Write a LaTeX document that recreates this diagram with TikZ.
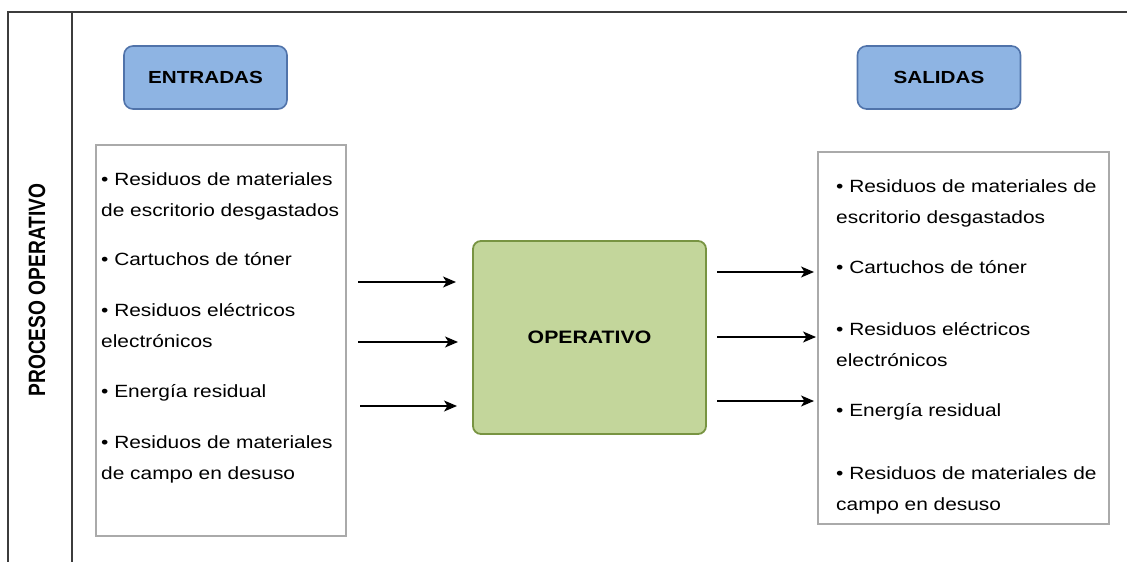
\documentclass[tikz,border=0pt]{standalone}
\usepackage{fontspec}
\usepackage{graphicx}
\setmainfont{Liberation Sans}[FakeStretch=1.18]
\newfontfamily\plainsans{Liberation Sans}
\usetikzlibrary{arrows.meta}

\definecolor{headfill}{RGB}{142,180,227}
\definecolor{headdraw}{RGB}{80,115,170}
\definecolor{opfill}{RGB}{195,214,155}
\definecolor{opdraw}{RGB}{120,148,66}
\definecolor{framecol}{RGB}{60,60,60}
\definecolor{listcol}{RGB}{170,170,170}

\tikzset{
  frameline/.style={draw=framecol, line width=1.4pt},
  headbox/.style={draw=headdraw, fill=headfill, line width=1.6pt, rounded corners=9pt,
    minimum width=163pt, minimum height=63pt, inner sep=0pt,
    font=\bfseries\fontsize{17.5}{20}\selectfont},
  listbox/.style={draw=listcol, line width=1.3pt, inner sep=0pt},
  opbox/.style={draw=opdraw, fill=opfill, line width=1.8pt, rounded corners=8pt,
    minimum width=233pt, minimum height=193pt, inner sep=0pt,
    font=\bfseries\fontsize{18}{20}\selectfont},
  item/.style={anchor=base west, align=left, inner sep=0pt,
    font=\fontsize{17.7}{31}\selectfont},
  flow/.style={draw=black, line width=1.2pt, -{Stealth[length=13pt,width=11pt,inset=3.5pt]}}
}

\begin{document}
\begin{tikzpicture}[x=1pt, y=-1pt]
\useasboundingbox (0,0) rectangle (1127,562);

% outer frame of the process lane
\coordinate (ftl) at (8,12);
\coordinate (ftr) at (1127,12);
\coordinate (fbl) at (8,562);
\coordinate (stl) at (72,12);
\coordinate (sbl) at (72,562);
\draw[frameline] (fbl) -- (ftl) -- (ftr);
\draw[frameline] (stl) -- (sbl);

% lane title
\node[rotate=90, inner sep=0pt, font=\plainsans\bfseries\fontsize{19.2}{20}\selectfont]
  (lane) at (37,290) {\scalebox{1}[1.23]{PROCESO OPERATIVO}};

% headers
\node[headbox] (entradas) at (205.5,77.5) {ENTRADAS};
\node[headbox] (salidas) at (939,77.5) {SALIDAS};

% list frames
\node[listbox, minimum width=250pt, minimum height=391pt] (inlist) at (221,340.5) {};
\node[listbox, minimum width=291pt, minimum height=372pt] (outlist) at (963.5,338) {};

% inputs (positioned by the baseline of their last line)
\node[item] (in1) at (101,216) {• Residuos de materiales\\de escritorio desgastados};
\node[item] (in2) at (101,265) {• Cartuchos de tóner};
\node[item] (in3) at (101,347) {• Residuos eléctricos\\electrónicos};
\node[item] (in4) at (101,397) {• Energía residual};
\node[item] (in5) at (101,479) {• Residuos de materiales\\de campo en desuso};

% outputs
\node[item] (out1) at (836,223) {• Residuos de materiales de\\escritorio desgastados};
\node[item] (out2) at (836,273) {• Cartuchos de tóner};
\node[item] (out3) at (836,366) {• Residuos eléctricos\\electrónicos};
\node[item] (out4) at (836,416) {• Energía residual};
\node[item] (out5) at (836,510) {• Residuos de materiales de\\campo en desuso};

% central process
\node[opbox] (op) at (589.5,337.5) {OPERATIVO};

% input arrows
\coordinate (ia1) at (358,282); \coordinate (ib1) at (456,282);
\coordinate (ia2) at (358,342); \coordinate (ib2) at (458,342);
\coordinate (ia3) at (360,406); \coordinate (ib3) at (457,406);
\draw[flow] (ia1) -- (ib1);
\draw[flow] (ia2) -- (ib2);
\draw[flow] (ia3) -- (ib3);

% output arrows
\coordinate (oa1) at (717,272); \coordinate (ob1) at (814,272);
\coordinate (oa2) at (717,337); \coordinate (ob2) at (816,337);
\coordinate (oa3) at (717,401); \coordinate (ob3) at (814,401);
\draw[flow] (oa1) -- (ob1);
\draw[flow] (oa2) -- (ob2);
\draw[flow] (oa3) -- (ob3);
\end{tikzpicture}
\end{document}
